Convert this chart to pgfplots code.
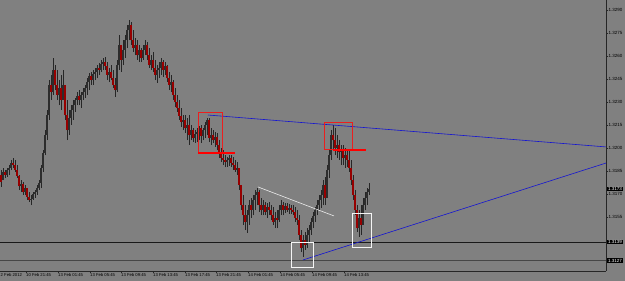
\documentclass[border=0pt]{standalone}
\usepackage{fontspec}
\setmainfont{Liberation Sans}
\usepackage{pgfplots}
\usepackage{pgfplotstable}
\usetikzlibrary{calc,backgrounds}
\pgfplotsset{compat=1.18}
\definecolor{bg}{RGB}{128,128,128}
\definecolor{wick}{RGB}{38,38,38}
\definecolor{bear}{RGB}{150,0,0}
\definecolor{bull}{RGB}{45,45,45}
\definecolor{tl}{RGB}{20,20,210}
\definecolor{boxred}{RGB}{235,30,30}

\pgfplotstableread{
t H L O C
0 1.31857 1.31746 1.31824 1.31778
1 1.31870 1.31791 1.31791 1.31844
2 1.31857 1.31804 1.31844 1.31824
3 1.31870 1.31811 1.31824 1.31857
4 1.31889 1.31824 1.31857 1.31870
5 1.31922 1.31857 1.31870 1.31902
6 1.31935 1.31870 1.31902 1.31889
7 1.31922 1.31844 1.31889 1.31857
8 1.31889 1.31804 1.31857 1.31817
9 1.31824 1.31726 1.31817 1.31752
10 1.31791 1.31713 1.31752 1.31765
11 1.31778 1.31694 1.31765 1.31713
12 1.31759 1.31694 1.31713 1.31739
13 1.31739 1.31661 1.31739 1.31681
14 1.31713 1.31648 1.31681 1.31661
15 1.31694 1.31628 1.31661 1.31668
16 1.31713 1.31661 1.31668 1.31700
17 1.31726 1.31674 1.31700 1.31713
18 1.31759 1.31694 1.31713 1.31739
19 1.31791 1.31726 1.31739 1.31772
20 1.31889 1.31739 1.31772 1.31870
21 1.31987 1.31844 1.31870 1.31967
22 1.32117 1.31954 1.31967 1.32085
23 1.32248 1.32052 1.32085 1.32215
24 1.32443 1.32183 1.32215 1.32411
25 1.32476 1.32313 1.32411 1.32365
26 1.32587 1.32346 1.32365 1.32509
27 1.32541 1.32378 1.32509 1.32411
28 1.32509 1.32313 1.32411 1.32346
29 1.32443 1.32280 1.32346 1.32391
30 1.32476 1.32248 1.32391 1.32313
31 1.32509 1.32313 1.32313 1.32411
32 1.32411 1.32183 1.32411 1.32215
33 1.32313 1.32052 1.32215 1.32117
34 1.32248 1.32085 1.32117 1.32196
35 1.32280 1.32150 1.32196 1.32248
36 1.32313 1.32183 1.32248 1.32280
37 1.32326 1.32235 1.32280 1.32313
38 1.32365 1.32280 1.32313 1.32339
39 1.32378 1.32280 1.32339 1.32313
40 1.32365 1.32261 1.32313 1.32346
41 1.32391 1.32313 1.32346 1.32365
42 1.32411 1.32326 1.32365 1.32391
43 1.32456 1.32346 1.32391 1.32430
44 1.32489 1.32378 1.32430 1.32469
45 1.32496 1.32411 1.32469 1.32443
46 1.32509 1.32411 1.32443 1.32483
47 1.32522 1.32443 1.32483 1.32496
48 1.32541 1.32456 1.32496 1.32522
49 1.32554 1.32476 1.32522 1.32509
50 1.32574 1.32496 1.32509 1.32548
51 1.32587 1.32509 1.32548 1.32561
52 1.32593 1.32509 1.32561 1.32535
53 1.32561 1.32443 1.32535 1.32476
54 1.32522 1.32430 1.32476 1.32496
55 1.32541 1.32443 1.32496 1.32456
56 1.32509 1.32391 1.32456 1.32411
57 1.32456 1.32333 1.32411 1.32378
58 1.32574 1.32365 1.32378 1.32541
59 1.32737 1.32509 1.32541 1.32672
60 1.32672 1.32496 1.32672 1.32574
61 1.32704 1.32541 1.32574 1.32639
62 1.32737 1.32587 1.32639 1.32704
63 1.32802 1.32652 1.32704 1.32769
64 1.32835 1.32704 1.32769 1.32802
65 1.32822 1.32672 1.32802 1.32704
66 1.32769 1.32626 1.32704 1.32652
67 1.32717 1.32606 1.32652 1.32672
68 1.32704 1.32574 1.32672 1.32606
69 1.32672 1.32561 1.32606 1.32639
70 1.32652 1.32561 1.32639 1.32587
71 1.32672 1.32574 1.32587 1.32639
72 1.32704 1.32606 1.32639 1.32672
73 1.32691 1.32574 1.32672 1.32606
74 1.32652 1.32522 1.32606 1.32541
75 1.32606 1.32509 1.32541 1.32574
76 1.32626 1.32496 1.32574 1.32522
77 1.32574 1.32443 1.32522 1.32476
78 1.32541 1.32424 1.32476 1.32509
79 1.32561 1.32456 1.32509 1.32522
80 1.32587 1.32476 1.32522 1.32561
81 1.32574 1.32463 1.32561 1.32509
82 1.32561 1.32476 1.32509 1.32535
83 1.32541 1.32430 1.32535 1.32456
84 1.32496 1.32378 1.32456 1.32411
85 1.32476 1.32365 1.32411 1.32430
86 1.32443 1.32313 1.32430 1.32346
87 1.32391 1.32267 1.32346 1.32300
88 1.32346 1.32235 1.32300 1.32261
89 1.32313 1.32183 1.32261 1.32209
90 1.32261 1.32137 1.32209 1.32170
91 1.32215 1.32117 1.32170 1.32183
92 1.32215 1.32098 1.32183 1.32130
93 1.32196 1.32052 1.32130 1.32150
94 1.32215 1.32020 1.32150 1.32085
95 1.32150 1.32052 1.32085 1.32117
96 1.32130 1.32039 1.32117 1.32065
97 1.32117 1.32033 1.32065 1.32091
98 1.32130 1.32039 1.32091 1.32104
99 1.32143 1.32052 1.32104 1.32130
100 1.32150 1.32033 1.32130 1.32078
101 1.32130 1.32052 1.32078 1.32117
102 1.32170 1.32065 1.32117 1.32150
103 1.32196 1.32085 1.32150 1.32183
104 1.32196 1.32039 1.32183 1.32065
105 1.32130 1.32020 1.32065 1.32085
106 1.32117 1.32033 1.32085 1.32052
107 1.32104 1.32007 1.32052 1.32072
108 1.32098 1.31987 1.32072 1.32020
109 1.32052 1.31935 1.32020 1.31974
110 1.32000 1.31909 1.31974 1.31935
111 1.31987 1.31889 1.31935 1.31922
112 1.31954 1.31876 1.31922 1.31909
113 1.31941 1.31876 1.31909 1.31922
114 1.31954 1.31883 1.31922 1.31935
115 1.31954 1.31876 1.31935 1.31902
116 1.31941 1.31857 1.31902 1.31889
117 1.31922 1.31844 1.31889 1.31857
118 1.31909 1.31824 1.31857 1.31870
119 1.31857 1.31726 1.31870 1.31759
120 1.31759 1.31596 1.31759 1.31628
121 1.31694 1.31498 1.31628 1.31563
122 1.31628 1.31465 1.31563 1.31518
123 1.31596 1.31446 1.31518 1.31563
124 1.31661 1.31498 1.31563 1.31628
125 1.31674 1.31544 1.31628 1.31596
126 1.31694 1.31563 1.31596 1.31661
127 1.31726 1.31596 1.31661 1.31694
128 1.31739 1.31628 1.31694 1.31713
129 1.31726 1.31583 1.31713 1.31628
130 1.31674 1.31563 1.31628 1.31596
131 1.31661 1.31563 1.31596 1.31628
132 1.31648 1.31563 1.31628 1.31583
133 1.31641 1.31544 1.31583 1.31615
134 1.31648 1.31563 1.31615 1.31596
135 1.31628 1.31531 1.31596 1.31563
136 1.31615 1.31498 1.31563 1.31518
137 1.31583 1.31478 1.31518 1.31544
138 1.31596 1.31478 1.31544 1.31531
139 1.31628 1.31518 1.31531 1.31596
140 1.31661 1.31563 1.31596 1.31628
141 1.31648 1.31563 1.31628 1.31596
142 1.31641 1.31576 1.31596 1.31622
143 1.31641 1.31583 1.31622 1.31596
144 1.31635 1.31570 1.31596 1.31609
145 1.31628 1.31570 1.31609 1.31596
146 1.31628 1.31563 1.31596 1.31583
147 1.31615 1.31518 1.31583 1.31544
148 1.31596 1.31498 1.31544 1.31531
149 1.31563 1.31400 1.31531 1.31433
150 1.31465 1.31322 1.31433 1.31348
151 1.31433 1.31289 1.31348 1.31400
152 1.31452 1.31335 1.31400 1.31368
153 1.31478 1.31348 1.31368 1.31433
154 1.31498 1.31387 1.31433 1.31465
155 1.31544 1.31433 1.31465 1.31518
156 1.31583 1.31478 1.31518 1.31557
157 1.31615 1.31518 1.31557 1.31596
158 1.31661 1.31563 1.31596 1.31628
159 1.31694 1.31596 1.31628 1.31661
160 1.31726 1.31609 1.31661 1.31694
161 1.31791 1.31628 1.31694 1.31759
162 1.31811 1.31628 1.31759 1.31674
163 1.31889 1.31694 1.31674 1.31857
164 1.31987 1.31804 1.31857 1.31954
165 1.32117 1.31922 1.31954 1.32085
166 1.32150 1.31987 1.32085 1.32052
167 1.32130 1.31954 1.32052 1.32000
168 1.32085 1.31935 1.32000 1.32020
169 1.32052 1.31922 1.32020 1.31974
170 1.32020 1.31889 1.31974 1.31987
171 1.32020 1.31889 1.31987 1.31935
172 1.32000 1.31870 1.31935 1.31954
173 1.31987 1.31876 1.31954 1.31922
174 1.31987 1.31844 1.31922 1.31870
175 1.31922 1.31759 1.31870 1.31791
176 1.31824 1.31661 1.31791 1.31694
177 1.31726 1.31563 1.31694 1.31596
178 1.31628 1.31452 1.31596 1.31478
179 1.31596 1.31420 1.31478 1.31544
180 1.31628 1.31433 1.31544 1.31498
181 1.31674 1.31498 1.31498 1.31628
182 1.31713 1.31596 1.31628 1.31674
183 1.31739 1.31628 1.31674 1.31713
184 1.31772 1.31694 1.31713 1.31733
}\candles

\begin{document}
\begin{tikzpicture}[x=1pt,y=1pt]
\begin{axis}[
  scale only axis, width=606pt, height=271pt,
  xmin=-0.5, xmax=302.5, ymin=1.31198, ymax=1.32965,
  axis x line*=bottom, axis y line*=right,
  axis line style={black!85, line width=0.7pt},
  tick align=outside, major tick length=2pt,
  tick style={black!85, line width=0.5pt},
  minor tick num=0,
  xtick={12.5,28.5,44.5,60,76,92,107.5,123.5,139.5,155.5,171.5},
  xticklabels={10 Feb 21:45,13 Feb 01:45,13 Feb 05:45,13 Feb 09:45,13 Feb 13:45,13 Feb 17:45,13 Feb 21:45,14 Feb 01:45,14 Feb 05:45,14 Feb 09:45,14 Feb 13:45},
  xticklabel style={font=\fontsize{4.2}{5}\selectfont, anchor=north west, inner sep=0.5pt, xshift=-0.5pt, yshift=0.3pt},
  ytick={1.3155,1.3170,1.3185,1.3200,1.3215,1.3230,1.3245,1.3260,1.3275,1.3290},
  yticklabels={1.3155,1.3170,1.3185,1.3200,1.3215,1.3230,1.3245,1.3260,1.3275,1.3290},
  yticklabel style={font=\fontsize{4.5}{5}\selectfont, anchor=west, inner sep=0.5pt, xshift=0pt},
  scaled y ticks=false,
  clip=true,
]
% horizontal levels
\addplot[black!45!bg, line width=1.2pt, forget plot] coordinates {(-0.5,1.31265) (302.5,1.31265)};
\addplot[black!90, line width=0.6pt, forget plot] coordinates {(-0.5,1.31387) (302.5,1.31387)};
% wicks
\addplot[draw=none, mark=none, forget plot,
  error bars/.cd, y dir=plus, y explicit, error mark=none,
  error bar style={draw=wick, line width=0.75pt}]
  table[x=t, y=L, y error expr=\thisrow{H}-\thisrow{L}] {\candles};
% bull bodies
\addplot[draw=none, mark=none, forget plot,
  restrict expr to domain={\thisrow{C}-\thisrow{O}}{0:1},
  error bars/.cd, y dir=plus, y explicit, error mark=none,
  error bar style={draw=bull, line width=1.3pt}]
  table[x=t, y=O, y error expr=\thisrow{C}-\thisrow{O}] {\candles};
% bear bodies
\addplot[draw=none, mark=none, forget plot,
  restrict expr to domain={\thisrow{O}-\thisrow{C}}{0.000001:1},
  error bars/.cd, y dir=plus, y explicit, error mark=none,
  error bar style={draw=bear, line width=1.3pt}]
  table[x=t, y=C, y error expr=\thisrow{O}-\thisrow{C}] {\candles};
% trend lines
\addplot[tl, line width=0.6pt, forget plot] coordinates {(103.5,1.32215) (302.5,1.32007)};
\addplot[tl, line width=0.6pt, forget plot] coordinates {(151,1.31270) (302.5,1.31902)};
\addplot[white!85!gray, line width=0.6pt, forget plot] coordinates {(128.5,1.31746) (166.5,1.31557)};
% red boxes and levels
\addplot[boxred, line width=0.6pt, forget plot] coordinates {(98.5,1.32235) (110.5,1.32235) (110.5,1.31967) (98.5,1.31967) (98.5,1.32235)};
\addplot[red, line width=1.4pt, forget plot] coordinates {(98.5,1.31967) (117,1.31967)};
\addplot[boxred, line width=0.6pt, forget plot] coordinates {(161.5,1.32170) (175.5,1.32170) (175.5,1.31994) (161.5,1.31994) (161.5,1.32170)};
\addplot[red, line width=1.4pt, forget plot] coordinates {(166,1.31987) (182.5,1.31987)};
% white boxes
\addplot[white!92!gray, line width=0.6pt, forget plot] coordinates {(145,1.31387) (156,1.31387) (156,1.31224) (145,1.31224) (145,1.31387)};
\addplot[white!92!gray, line width=0.6pt, forget plot] coordinates {(175.5,1.31576) (185,1.31576) (185,1.31355) (175.5,1.31355) (175.5,1.31576)};
\coordinate (pc) at (axis description cs:0,0);
\coordinate (p1) at (axis cs:302.5,1.31733);
\coordinate (p2) at (axis cs:302.5,1.31387);
\coordinate (p3) at (axis cs:302.5,1.31265);
\end{axis}
\begin{scope}[on background layer]
\fill[bg] ($(pc)+(0,-10)$) rectangle ($(pc)+(625,271)$);
\end{scope}
\node[fill=black, text=white, inner sep=0.7pt, anchor=west, xshift=1.2pt, font=\fontsize{4.5}{5}\selectfont] at (p1) {1.3173};
\node[fill=black, text=white, inner sep=0.7pt, anchor=west, xshift=1.2pt, font=\fontsize{4.5}{5}\selectfont] at (p2) {1.3139};
\node[fill=black, text=white, inner sep=0.7pt, anchor=west, xshift=1.2pt, font=\fontsize{4.5}{5}\selectfont] at (p3) {1.3127};
\node[anchor=north west, inner sep=0.5pt, font=\fontsize{4.2}{5}\selectfont] at ($(pc)+(0,-2.1)$) {2 Feb 2012};
\pgfresetboundingbox
\path[use as bounding box] ($(pc)+(0,-10)$) rectangle ($(pc)+(625,271)$);
\end{tikzpicture}
\end{document}
